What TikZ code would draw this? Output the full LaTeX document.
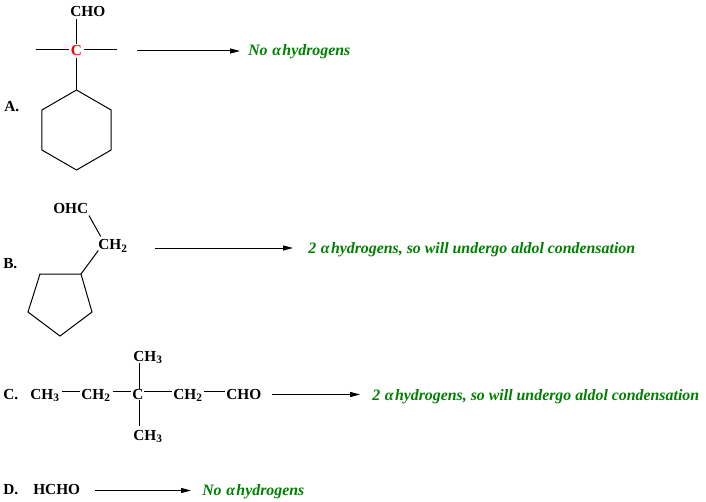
\documentclass[tikz,border=0pt]{standalone}
\usepackage{fontspec}
\setmainfont{Liberation Serif}
\usetikzlibrary{arrows.meta,calc}
\definecolor{notegreen}{RGB}{0,128,0}
\newcommand\chsub[1]{\raisebox{-0.4ex}{\fontsize{8.5}{9}\selectfont #1}}
\newcommand\alphah{\hspace{0.3em}α\hspace{0.08em}}
\begin{document}
\begin{tikzpicture}[x=0.75pt,y=-0.75pt,
  chem/.style={font=\bfseries\fontsize{11.5}{13}\selectfont, inner sep=0pt},
  note/.style={font=\bfseries\itshape\fontsize{11.9}{13}\selectfont, text=notegreen, inner sep=0pt, anchor=base west},
  bond/.style={line width=0.75pt},
  rarrow/.style={line width=0.75pt, -{Triangle[length=7.5pt,width=3.8pt]}}]
\useasboundingbox[fill=white] (0,0) rectangle (706,502);

% ---------- A ----------
\node[chem, anchor=base west] (lA) at (4,112) {A.};
\node[chem, anchor=base west] (acho) at (70,16.5) {CHO};
\node[chem, anchor=base, text=red] (ac) at (76.5,55.5) {C};
\coordinate (al) at (36,50);
\coordinate (ar) at (117,50);
\coordinate (hx1) at (76.5,90);
\draw[bond] (al) -- ($(al -| ac.west)+(-2,0)$);
\draw[bond] ($(ar -| ac.east)+(2,0)$) -- (ar);
\draw[bond] ($(ac.north)+(0,-1)$) -- ($(acho.south -| ac)+(0,2.5)$);
\draw[bond] ($(ac.south)+(0,2.5)$) -- (hx1);
\draw[bond] (hx1) -- (111.1,110) -- (111.1,150) -- (76.5,170) -- (41.9,150) -- (41.9,110) -- cycle;
\coordinate (aa1) at (137,51);
\coordinate (aa2) at (240,51);
\draw[rarrow] (aa1) -- (aa2);
\node[note] (na) at (248,56) {No\alphah hydrogens};

% ---------- B ----------
\node[chem, anchor=base west] (lB) at (3,268) {B.};
\node[chem, anchor=base west] (bohc) at (53,213.5) {OHC};
\node[chem, anchor=base west] (bch2) at (98,249.5) {CH\chsub{2}};
\coordinate (p1) at (81,274);
\draw[bond] (89,215.5) -- (100.7,236.5);
\draw[bond] (98.3,250.5) -- (p1);
\draw[bond] (p1) -- (40,274) -- (28,312) -- (60,336) -- (92,312) -- cycle;
\coordinate (ba1) at (155,248);
\coordinate (ba2) at (293,248);
\draw[rarrow] (ba1) -- (ba2);
\node[note] (nb) at (308,253) {2\alphah hydrogens, so will undergo aldol condensation};

% ---------- C ----------
\node[chem, anchor=base west] (lC) at (3,399) {C.};
\node[chem, anchor=base west] (c1) at (30,399) {CH\chsub{3}};
\node[chem, anchor=base west] (c2) at (81,399) {CH\chsub{2}};
\node[chem, anchor=base west] (c3) at (132,399) {C};
\node[chem, anchor=base west] (c4) at (173,399) {CH\chsub{2}};
\node[chem, anchor=base west] (c5) at (226,399) {CHO};
\node[chem, anchor=base west] (ct) at (133,361) {CH\chsub{3}};
\node[chem, anchor=base west] (cb) at (133,440) {CH\chsub{3}};
\draw[bond] (62,391) -- (80,391);
\draw[bond] (112.5,391) -- (130.5,391);
\draw[bond] (143.5,391) -- (172,391);
\draw[bond] (203.5,391) -- (224.5,391);
\draw[bond] (139,363) -- (139,388.5);
\draw[bond] (139,399.5) -- (139,426);
\coordinate (ca1) at (272,394.5);
\coordinate (ca2) at (360,394.5);
\draw[rarrow] (ca1) -- (ca2);
\node[note] (nc) at (372,400) {2\alphah hydrogens, so will undergo aldol condensation};

% ---------- D ----------
\node[chem, anchor=base west] (lD) at (3,494) {D.};
\node[chem, anchor=base west] (d1) at (33,494) {HCHO};
\coordinate (da1) at (95,490.5);
\coordinate (da2) at (191,490.5);
\draw[rarrow] (da1) -- (da2);
\node[note] (nd) at (202,495) {No\alphah hydrogens};
\end{tikzpicture}
\end{document}
